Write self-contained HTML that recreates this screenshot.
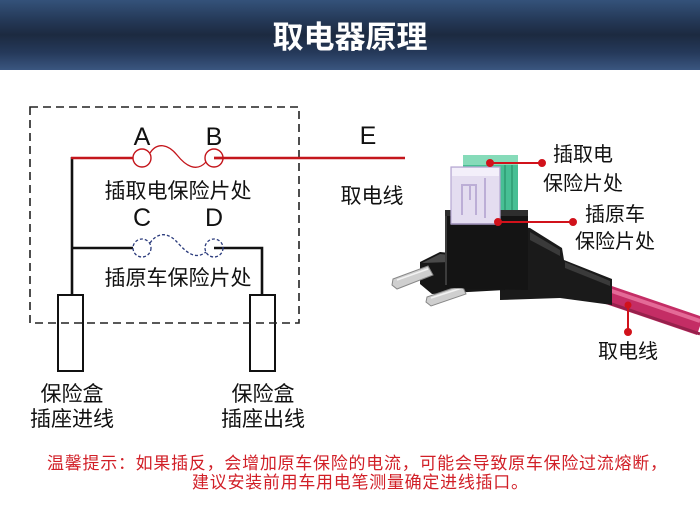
<!DOCTYPE html>
<html><head><meta charset="utf-8">
<style>
html,body{margin:0;padding:0;background:#fff;}
body{width:700px;height:510px;overflow:hidden;position:relative;font-family:"Liberation Sans","Noto Sans CJK SC",sans-serif;}
.hdr{position:absolute;left:0;top:0;width:700px;height:70px;background:linear-gradient(to bottom,#34527a 0%,#243856 30%,#1c2a40 50%,#25395a 75%,#3a5680 100%);}
.hdr div{position:absolute;left:0;top:0;width:700px;height:70px;line-height:70px;text-align:center;color:#fff;font-weight:bold;font-size:31px;font-family:"Noto Sans CJK SC","WenQuanYi Zen Hei",sans-serif;letter-spacing:0px;}
svg{position:absolute;left:0;top:0;}
</style></head>
<body>
<div class="hdr"><div>取电器原理</div></div>
<svg width="700" height="510" viewBox="0 0 700 510" xmlns="http://www.w3.org/2000/svg" font-family="Liberation Sans, Noto Sans CJK SC, sans-serif">
  <!-- black wires -->
  <g stroke="#111" stroke-width="2.6" fill="none">
    <polyline points="72,157 72,296"/>
    <line x1="72" y1="248" x2="133" y2="248"/>
    <polyline points="214,248 262,248 262,296"/>
  </g>
  <!-- socket rects -->
  <rect x="58" y="295" width="25" height="76" fill="#fff" stroke="#111" stroke-width="2"/>
  <rect x="250" y="295" width="25" height="76" fill="#fff" stroke="#111" stroke-width="2"/>
  <!-- dashed box -->
  <rect x="30" y="107" width="269" height="216" fill="none" stroke="#222" stroke-width="1.6" stroke-dasharray="8 5"/>
  <!-- red circuit -->
  <g stroke="#c4161c" fill="none">
    <line x1="71" y1="158" x2="133" y2="158" stroke-width="2.4"/>
    <line x1="214" y1="158" x2="405" y2="158" stroke-width="2.4"/>
    <circle cx="142" cy="158" r="9" stroke-width="1.4" fill="#fff"/>
    <circle cx="214" cy="158" r="9" stroke-width="1.4" fill="none"/>
    <path d="M150,153 C157,142 168,144 177,155 C185,165 196,173 206,162" stroke-width="1.3"/>
    <line x1="214" y1="158" x2="224" y2="158" stroke-width="2.4"/>
  </g>
  <!-- blue dashed fuse -->
  <g stroke="#2b3b7c" fill="none" stroke-width="1.3" stroke-dasharray="3 2">
    <circle cx="142" cy="248" r="9" fill="#fff"/>
    <circle cx="214" cy="248" r="9"/>
    <path d="M150,243 C157,233 166,232 175,240 C183,248 193,262 206,252"/>
  </g>
  <!-- letters -->
  <g font-size="25" fill="#111" text-anchor="middle" font-family="Liberation Sans, sans-serif">
    <text x="142" y="145">A</text>
    <text x="214" y="145">B</text>
    <text x="368" y="144">E</text>
    <text x="142" y="226">C</text>
    <text x="214" y="226">D</text>
  </g>
  <!-- diagram CJK labels -->
  <g font-size="21" fill="#111" text-anchor="middle" font-family="Liberation Sans, Noto Sans CJK SC, sans-serif">
    <text x="178" y="198">插取电保险片处</text>
    <text x="178" y="285">插原车保险片处</text>
    <text x="372" y="203">取电线</text>
    <text x="72" y="401">保险盒</text>
    <text x="72" y="426">插座进线</text>
    <text x="263" y="401">保险盒</text>
    <text x="263" y="426">插座出线</text>
  </g>

  <!-- product photo -->
  <!-- pink wire -->
  <line x1="600" y1="292" x2="700" y2="326" stroke="#c42d65" stroke-width="19"/>
  <line x1="600" y1="287" x2="700" y2="321" stroke="#e46a97" stroke-width="4"/>
  <line x1="600" y1="300" x2="700" y2="334" stroke="#97214c" stroke-width="3"/>
  <!-- sleeve -->
  <polygon points="500,225 530,228 562,248 564,260 612,279 612,305 560,298 500,300" fill="#1a1a1a"/>
  <polygon points="530,232 560,250 560,256 530,240" fill="#3a3a3a"/>
  <polygon points="565,262 610,281 610,286 565,268" fill="#3a3a3a"/>
  <!-- holder lower piece -->
  <polygon points="420,262 440,252 500,258 505,290 432,294 420,284" fill="#161616"/>
  <polygon points="422,263 440,254 470,257 450,262" fill="#4a4a4a"/>
  <!-- blades -->
  <polygon points="393,279 428,266 433,275 397,289 392,285" fill="#cfcfcf" stroke="#888" stroke-width="1"/>
  <line x1="397" y1="280" x2="428" y2="269" stroke="#f2f2f2" stroke-width="1.5"/>
  <polygon points="427,297 462,285 466,294 431,306 426,302" fill="#cfcfcf" stroke="#888" stroke-width="1"/>
  <line x1="431" y1="298" x2="462" y2="288" stroke="#f2f2f2" stroke-width="1.5"/>
  <!-- green fuse -->
  <rect x="463" y="155" width="55" height="62" fill="#47bf94"/>
  <rect x="463" y="155" width="55" height="10" fill="#86dbb9"/>
  <g stroke="#2f9a72" stroke-width="1.5">
    <line x1="505" y1="165" x2="505" y2="215"/>
    <line x1="512" y1="165" x2="512" y2="215"/>
  </g>
  <!-- base block -->
  <polygon points="445,212 528,212 528,290 445,288" fill="#141414"/>
  <polygon points="445,210 528,210 528,216 445,216" fill="#2e2e2e"/>
  <line x1="446" y1="216" x2="446" y2="285" stroke="#3c3c3c" stroke-width="2"/>
  <!-- purple fuse -->
  <rect x="451" y="167" width="49" height="57" fill="#e4ddf0" stroke="#b6a8d2" stroke-width="1.2"/>
  <rect x="452" y="168" width="47" height="8" fill="#f3effa"/>
  <path d="M462,215 L462,185 L476,185 L476,215 M470,200 L470,185 M485,178 L485,218" stroke="#bcaed6" stroke-width="2" fill="none"/>
  <line x1="451" y1="224" x2="500" y2="224" stroke="#9d8fb8" stroke-width="1.5"/>

  <!-- callouts -->
  <g stroke="#d1121b" stroke-width="2" fill="#d1121b">
    <line x1="490" y1="163" x2="542" y2="163"/>
    <circle cx="490" cy="163" r="3"/>
    <circle cx="542" cy="163" r="3"/>
    <line x1="498" y1="222" x2="573" y2="222"/>
    <circle cx="498" cy="222" r="3"/>
    <circle cx="573" cy="222" r="3"/>
    <line x1="628" y1="305" x2="628" y2="332"/>
    <circle cx="628" cy="305" r="2.5"/>
    <circle cx="628" cy="332" r="3"/>
  </g>
  <g font-size="20" fill="#111" font-family="Liberation Sans, Noto Sans CJK SC, sans-serif">
    <text x="553" y="161">插取电</text>
    <text x="543" y="190">保险片处</text>
    <text x="585" y="221">插原车</text>
    <text x="575" y="248">保险片处</text>
    <text x="598" y="358">取电线</text>
  </g>

  <!-- warning -->
  <g font-size="17" fill="#d11f27" font-family="Liberation Sans, Noto Sans CJK SC, sans-serif">
    <text x="47" y="469" textLength="620" lengthAdjust="spacing">温馨提示：如果插反，会增加原车保险的电流，可能会导致原车保险过流熔断，</text>
    <text x="192" y="488" textLength="336" lengthAdjust="spacing">建议安装前用车用电笔测量确定进线插口。</text>
  </g>
</svg>
</body></html>
